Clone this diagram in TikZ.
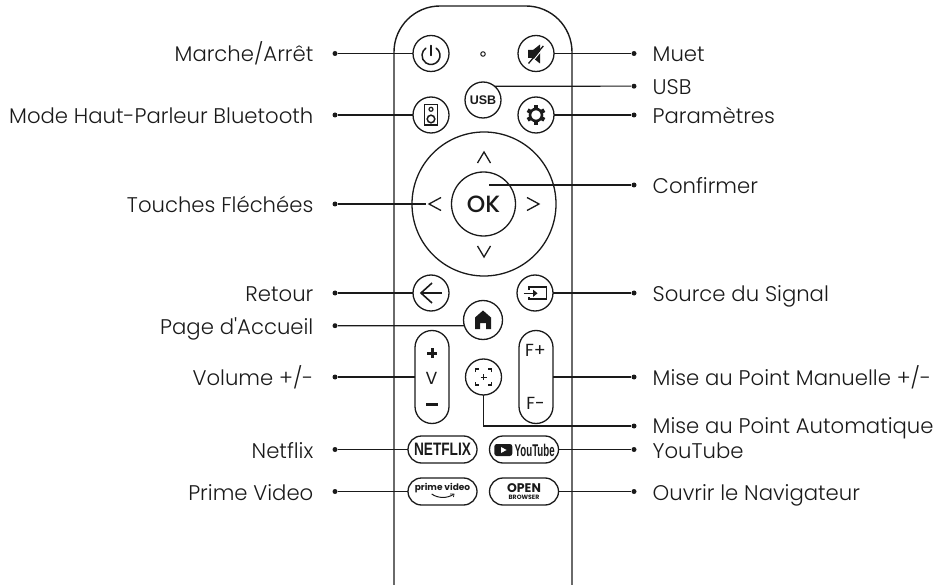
\documentclass[tikz,border=0pt]{standalone}
\usepackage{fontspec}
\setmainfont{Poppins}[UprightFont=* Light, BoldFont=* Bold]
\newfontfamily\keyfont{Liberation Sans}
\newfontfamily\midfont{Poppins}[UprightFont=* Medium]
\newfontfamily\regfont{Poppins}
\usetikzlibrary{calc}
\definecolor{inkDark}{RGB}{26,26,26}

\begin{document}
\begin{tikzpicture}[
  x=1pt, y=-1pt,
  line width=1.3pt,
  color=inkDark,
  body/.style={rounded corners=46pt, line width=1.4pt},
  btn/.style={circle, draw, minimum size=36pt, inner sep=0pt, outer sep=0pt},
  pillv/.style={rectangle, draw, rounded corners=17pt, minimum width=34pt, minimum height=93pt, outer sep=0pt},
  pillh/.style={rectangle, draw, rounded corners=13.5pt, minimum width=69pt, minimum height=27pt, inner sep=0pt, outer sep=0pt},
  lead/.style={line width=1.1pt},
  leaddot/.style={circle, fill, minimum size=5pt, inner sep=0pt},
  lblL/.style={anchor=east, inner sep=0pt, text height=17pt, text depth=0pt, font=\fontsize{21.2}{21.2}\selectfont},
  lblR/.style={anchor=west, inner sep=0pt, text height=17pt, text depth=0pt, font=\fontsize{21.2}{21.2}\selectfont},
  keytext/.style={inner sep=0pt, font=\regfont\fontsize{17.5}{17.5}\selectfont},
]
\useasboundingbox (0,0) rectangle (942,585);

% ---------- remote body ----------
\draw[body] (394,585) -- (394,6) -- (572,6) -- (572,585);

% ---------- top buttons ----------
\node[btn] (power) at (431,53.5) {};
\node[btn] (mute) at (536,53.5) {};
\node[circle, draw, line width=1pt, minimum size=4.5pt, inner sep=0pt] (led) at (483,54) {};
\node[btn, font=\keyfont\bfseries\fontsize{12.5}{12.5}\selectfont] (usb) at (483,100) {USB};
\node[btn] (speaker) at (431,115) {};
\node[btn] (gear) at (536,115) {};

\draw[line width=1.5pt, line cap=round] ($(power)+(0,2)$) ++(-55:9) arc (-55:235:9);
\draw[line width=1.5pt, line cap=round] ($(power)+(0,-8)$) -- ($(power)+(0,2)$);

\fill ($(mute)+(-8,-3.5)$) -- ++(5,0) -- ++(7,-5.5) -- ++(0,19) -- ++(-7,-5.5) -- ++(-5,0) -- cycle;
\draw[white, line width=1pt] ($(mute)+(8,-6)$) -- ($(mute)+(-6,11)$);
\draw[line width=1.3pt] ($(mute)+(7.3,-7.5)$) -- ($(mute)+(-7.5,10)$);

\draw[line width=1.9pt] ($(speaker)+(-6.5,-10.5)$) rectangle ($(speaker)+(6.5,10)$);
\draw[line width=1.2pt] ($(speaker)+(0,-5.7)$) circle (2);
\draw[line width=1.5pt] ($(speaker)+(0,4)$) circle (3.8);

\draw[line width=2.6pt] (gear) circle (6);
\foreach \a in {30,90,150,210,270,330}
  \draw[line width=4pt] ($(gear)+(\a:6.5)$) -- ($(gear)+(\a:9.6)$);

% ---------- direction pad ----------
\node[circle, draw, minimum size=144pt, inner sep=0pt, outer sep=0pt] (pad) at (484,204) {};
\node[circle, draw, minimum size=64pt, inner sep=0pt, outer sep=0pt, font=\midfont\fontsize{23.5}{23.5}\selectfont] (ok) at (483.5,204) {OK};
\draw ($(pad)+(-6.5,-41)$) -- ($(pad)+(0,-52)$) -- ($(pad)+(6.5,-41)$);
\draw ($(pad)+(-6.5,42)$) -- ($(pad)+(0,53)$) -- ($(pad)+(6.5,42)$);
\draw ($(pad)+(-43,-6.5)$) -- ($(pad)+(-55,0)$) -- ($(pad)+(-43,6.5)$);
\draw ($(pad)+(43,-6.5)$) -- ($(pad)+(55,0)$) -- ($(pad)+(43,6.5)$);
\coordinate (padLeft) at (426,204);
\coordinate (okEnd) at (489,185);

% ---------- middle buttons ----------
\node[btn] (back) at (431,293) {};
\node[btn] (source) at (535,293) {};
\node[btn, minimum size=39pt] (home) at (483,320) {};
\node[pillv] (volume) at (432,377) {};
\node[pillv] (fokus) at (536,377) {};
\node[btn] (autofocus) at (483.5,377) {};

\draw[line width=1.6pt] ($(back)+(11,0)$) -- ($(back)+(-10,0)$);
\draw[line width=1.6pt] ($(back)+(1,-10)$) -- ($(back)+(-10,0)$) -- ($(back)+(1,10)$);

\draw[line width=1.9pt] ($(source)+(-6,-3)$) -- ($(source)+(-6,-5.7)$) -- ($(source)+(11.5,-5.7)$) -- ($(source)+(11.5,6.3)$) -- ($(source)+(-6,6.3)$) -- ($(source)+(-6,3.5)$);
\draw[line width=1.2pt] ($(source)+(-11.5,0.3)$) -- ($(source)+(-2,0.3)$);
\fill ($(source)+(-2,-3.4)$) -- ($(source)+(2.5,0.3)$) -- ($(source)+(-2,4)$) -- cycle;

\fill ($(home)+(0,-9.5)$) -- ($(home)+(8,-2.5)$) -- ($(home)+(8,9)$) -- ($(home)+(3,9)$) -- ($(home)+(3,3)$) -- ($(home)+(-3,3)$) -- ($(home)+(-3,9)$) -- ($(home)+(-8,9)$) -- ($(home)+(-8,-2.5)$) -- cycle;

\fill ($(volume)+(-5,-25.5)$) rectangle ($(volume)+(5,-22.5)$);
\fill ($(volume)+(-1.5,-29)$) rectangle ($(volume)+(1.5,-19)$);
\node[keytext] (volumeV) at ($(volume)+(-0.5,1)$) {V};
\fill ($(volume)+(-6,25.5)$) rectangle ($(volume)+(6,28.5)$);
\node[keytext] (focusPlus) at ($(fokus)+(-0.5,-27)$) {F+};
\node[keytext] (focusMinus) at ($(fokus)+(-0.5,26)$) {F-};

\draw[line width=1.3pt] ($(autofocus)+(-8,-5)$) -- ($(autofocus)+(-8,-8)$) -- ($(autofocus)+(-4.5,-8)$);
\draw[line width=1.3pt] ($(autofocus)+(8,-5)$) -- ($(autofocus)+(8,-8)$) -- ($(autofocus)+(4.5,-8)$);
\draw[line width=1.3pt] ($(autofocus)+(-8,5)$) -- ($(autofocus)+(-8,8)$) -- ($(autofocus)+(-4.5,8)$);
\draw[line width=1.3pt] ($(autofocus)+(8,5)$) -- ($(autofocus)+(8,8)$) -- ($(autofocus)+(4.5,8)$);
\draw[line width=1pt] ($(autofocus)+(-3,0)$) -- ($(autofocus)+(3,0)$);
\draw[line width=1pt] ($(autofocus)+(0,-3)$) -- ($(autofocus)+(0,3)$);

% ---------- app buttons ----------
\node[pillh, font=\keyfont\bfseries\fontsize{18}{18}\selectfont] (netflix) at (442.5,449.5) {\scalebox{0.76}[1]{NETFLIX}};
\node[pillh] (youtube) at (524,449.5) {};
\node[pillh] (prime) at (442.5,491.5) {};
\node[pillh] (browser) at (524,491.5) {};

\fill[rounded corners=2.5pt] (494.3,444) rectangle (512.3,456);
\fill[white] (501,447) -- (506.5,450) -- (501,453) -- cycle;
\node[inner sep=0pt, font=\keyfont\bfseries\fontsize{17}{17}\selectfont] (youtubeText) at (534.7,450) {\scalebox{0.57}[1]{YouTube}};

\node[inner sep=0pt, font=\bfseries\fontsize{9}{9}\selectfont] (primeText) at (442.5,488.3) {prime video};
\draw[line width=1pt] (431.7,494) .. controls (438,498.5) and (447,498.5) .. (453.3,494.5);
\draw[line width=0.8pt] (450,494) -- (454,494) -- (453.5,497);

\node[inner sep=0pt, font=\bfseries\fontsize{12.5}{12.5}\selectfont] (openText) at (524,488) {OPEN};
\node[inner sep=0pt, font=\bfseries\fontsize{6.2}{6.2}\selectfont] (browserText) at (524,497.5) {BROWSER};

% ---------- left labels ----------
\node[lblL] (lblPower) at (314,53.5) {Marche/Arrêt};
\node[lblL] (lblSpeaker) at (314,115) {Mode Haut-Parleur Bluetooth};
\node[lblL] (lblArrows) at (314,204) {Touches Fléchées};
\node[lblL] (lblBack) at (314,293) {Retour};
\node[lblL] (lblHome) at (314,326) {Page d\textquotesingle Accueil};
\node[lblL] (lblVolume) at (314,377) {Volume +/-};
\node[lblL] (lblNetflix) at (314,449.5) {Netflix};
\node[lblL] (lblPrime) at (314,491.5) {Prime Video};

\node[leaddot] (dotPower) at (335,53.5) {};
\node[leaddot] (dotSpeaker) at (335,115) {};
\node[leaddot] (dotArrows) at (335,204) {};
\node[leaddot] (dotBack) at (335,293) {};
\node[leaddot] (dotHome) at (335,325.7) {};
\node[leaddot] (dotVolume) at (335,377) {};
\node[leaddot] (dotNetflix) at (335,449.5) {};
\node[leaddot] (dotPrime) at (335,491.5) {};

\draw[lead] (dotPower) -- (power);
\draw[lead] (dotSpeaker) -- (speaker);
\draw[lead] (dotArrows) -- (padLeft);
\draw[lead] (dotBack) -- (back);
\draw[lead] (dotHome) -- (home.197);
\draw[lead] (dotVolume) -- (volume);
\draw[lead] (dotNetflix) -- (netflix);
\draw[lead] (dotPrime) -- (prime);

% ---------- right labels ----------
\node[lblR] (lblMute) at (652,53.5) {Muet};
\node[lblR] (lblUsb) at (652,86.2) {USB};
\node[lblR] (lblGear) at (652,115) {Paramètres};
\node[lblR] (lblOk) at (652,185) {Confirmer};
\node[lblR] (lblSource) at (652,293) {Source du Signal};
\node[lblR] (lblFocus) at (652,377) {Mise au Point Manuelle +/-};
\node[lblR] (lblAuto) at (652,425) {Mise au Point Automatique};
\node[lblR] (lblYoutube) at (652,449.5) {YouTube};
\node[lblR] (lblBrowser) at (652,491.5) {Ouvrir le Navigateur};

\node[leaddot] (dotMute) at (634,53.5) {};
\node[leaddot] (dotUsb) at (634,86.2) {};
\node[leaddot] (dotGear) at (634,115) {};
\node[leaddot] (dotOk) at (634,185) {};
\node[leaddot] (dotSource) at (634,293) {};
\node[leaddot] (dotFocus) at (634,377) {};
\node[leaddot] (dotAuto) at (634,426) {};
\node[leaddot] (dotYoutube) at (634,449.5) {};
\node[leaddot] (dotBrowser) at (634,491.5) {};

\draw[lead] (dotMute) -- (mute);
\draw[lead] (dotUsb) -- (usb.50);
\draw[lead] (dotGear) -- (gear);
\draw[lead] (dotOk) -- (okEnd);
\draw[lead] (dotSource) -- (source);
\draw[lead] (dotFocus) -- (fokus);
\draw[lead] (dotAuto) -| (autofocus);
\draw[lead] (dotYoutube) -- (youtube);
\draw[lead] (dotBrowser) -- (browser);

\end{tikzpicture}
\end{document}
